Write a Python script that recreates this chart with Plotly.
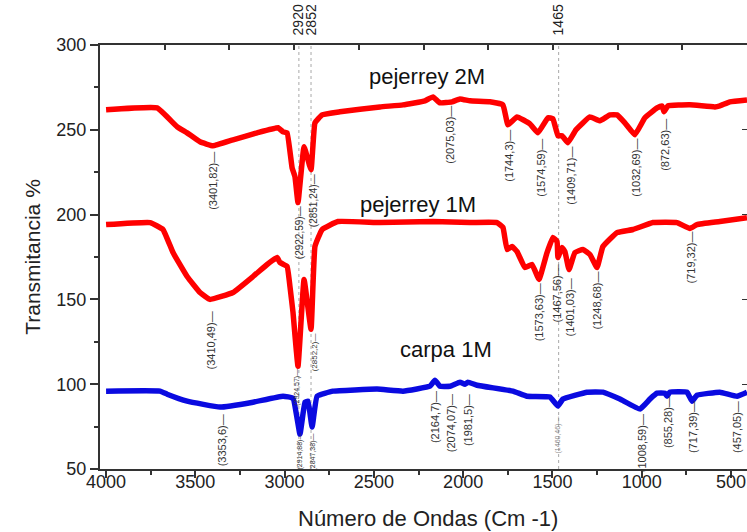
import plotly.graph_objects as go

# ---- data ----
wn_p2 = [4000, 3714, 3602, 3546, 3474, 3401, 3289, 3154, 3037, 3009, 2986, 2958, 2942, 2925,
         2891, 2852, 2830, 2790, 2690, 2466, 2337, 2214, 2169, 2130, 2062, 2018, 1962, 1850,
         1777, 1749, 1698, 1626, 1581, 1525, 1497, 1469, 1446, 1413, 1368, 1290, 1234, 1178,
         1138, 1094, 1038, 982, 914, 886, 875, 853, 730, 590, 562, 506, 410]
t_p2 = [261.8, 262.9, 251.8, 248.2, 242.9, 240.6, 244.1, 248.2, 251.2, 248.8, 248.2, 227.6, 222.4, 207.1,
        240.0, 226.5, 254.1, 258.8, 260.6, 263.5, 264.7, 267.1, 269.4, 265.9, 266.5, 268.2, 267.1, 266.5,
        264.7, 252.9, 257.6, 253.5, 248.2, 257.1, 256.5, 246.5, 246.5, 242.4, 250.0, 257.6, 255.3, 258.8,
        258.8, 254.1, 247.1, 257.1, 262.9, 264.1, 260.6, 264.1, 264.7, 263.5, 264.1, 266.5, 267.6]

wn_p1 = [4000, 3754, 3681, 3625, 3546, 3474, 3418, 3289, 3177, 3098, 3042, 3026, 2986, 2970,
         2953, 2925, 2891, 2852, 2830, 2790, 2701, 2466, 2169, 1962, 1810, 1777, 1754, 1726,
         1698, 1654, 1614, 1575, 1530, 1497, 1474, 1469, 1446, 1430, 1407, 1374, 1329, 1290,
         1250, 1217, 1138, 1049, 937, 802, 730, 690, 562, 410]
t_p1 = [194.1, 195.3, 191.2, 177.6, 163.5, 154.1, 150.0, 154.1, 163.5, 170.6, 174.7, 171.8, 169.4, 157.6,
        142.4, 110.6, 161.8, 132.4, 181.2, 191.2, 195.9, 195.3, 195.9, 195.3, 195.3, 192.4, 179.4, 181.2,
        178.2, 168.8, 170.6, 161.8, 177.6, 186.5, 184.1, 174.7, 180.6, 178.2, 167.6, 177.6, 179.4, 176.5,
        168.8, 181.2, 189.4, 191.2, 195.3, 195.3, 191.8, 194.1, 195.9, 198.2]

wn_c1 = [4000, 3698, 3658, 3546, 3362, 3177, 3009, 2953, 2914, 2886, 2869, 2846, 2818, 2729,
         2482, 2337, 2186, 2158, 2130, 2074, 2018, 1990, 1973, 1922, 1721, 1642, 1514, 1469,
         1441, 1306, 1217, 1122, 1010, 954, 914, 870, 858, 842, 746, 718, 690, 562, 466, 410]
t_c1 = [95.9, 95.9, 94.1, 90.0, 86.5, 89.4, 92.9, 91.8, 70.6, 89.4, 90.0, 74.7, 92.9, 95.9,
        97.1, 95.9, 98.8, 102.4, 98.8, 98.8, 101.2, 100.0, 101.2, 99.4, 95.9, 92.9, 92.4, 87.1,
        91.2, 95.3, 95.3, 91.2, 85.3, 91.2, 94.7, 94.7, 92.9, 95.3, 95.3, 90.0, 93.5, 95.3, 92.9, 95.3]

series_names = ["pejerrey 2M", "pejerrey 1M", "carpa 1M"]
series_colors = ["#ff0000", "#ff0000", "#0a0ae0"]
name_pos_x = [2202, 2253, 2096]
name_pos_y = [281.2, 205.9, 120.6]

# marked bands (top axis)
band_vals = [2920, 2852, 1465]
band_text = ["2920", "2852", "1465"]

x_title = "Número de Ondas (Cm -1)"
y_title = "Transmitancia %"

# peak labels: text, wavenumber, label-top transmittance, font size
peaks_p2 = [("(3401,82)—", 3401, 238.2, 11), ("(2922,59)—", 2919, 205.9, 10),
            ("(2851,24)—", 2841, 225.3, 10), ("(2075,03)—", 2074, 265.3, 11),
            ("(1744,3)—", 1743, 251.2, 11), ("(1574,59)—", 1564, 245.9, 11),
            ("(1409,71)—", 1396, 241.2, 11), ("(1032,69)—", 1032, 245.9, 11),
            ("(872,63)—", 870, 257.6, 11)]
peaks_p1 = [("(3410,49)—", 3412, 144.1, 11), ("(2924,57)—", 2930, 110.0, 7),
            ("(2852,2)—", 2835, 131.2, 8), ("(1573,63)—", 1570, 160.6, 11),
            ("(1467,56)—", 1474, 171.8, 11), ("(1401,03)—", 1402, 163.5, 11),
            ("(1248,68)—", 1250, 167.6, 11), ("(719,32)—", 724, 191.2, 11)]
peaks_c1 = [("(3353,6)—", 3350, 83.5, 11), ("(2914,88)—", 2919, 72.4, 7),
            ("(2847,38)—", 2841, 72.4, 7), ("(2164,7)—", 2158, 97.1, 11),
            ("(2074,07)—", 2068, 95.3, 11), ("(1981,5)—", 1973, 95.3, 11),
            ("(1460,46)—", 1469, 82.4, 7), ("(1008,59)—", 998, 83.5, 11),
            ("(855,28)—", 853, 94.1, 11), ("(717,39)—", 713, 91.2, 11),
            ("(457,05)—", 466, 91.2, 11)]

x_range = [4034, 410]
y_range = [50, 300]
top_frame_range = [0, 10]

FONT = "Liberation Sans, Arial, sans-serif"

fig = go.Figure()
for wn, t, nm, col in zip([wn_p2, wn_p1, wn_c1], [t_p2, t_p1, t_c1], series_names, series_colors):
    fig.add_trace(go.Scatter(x=wn, y=t, mode="lines", name=nm,
                             line=dict(color=col, width=5.5, shape="spline", smoothing=0.3),
                             showlegend=False))

# invisible helper traces so the frame axes get drawn
for xa, ya, xr in [("x2", "y", top_frame_range), ("x3", "y", x_range),
                   ("x", "y2", x_range), ("x4", "y", x_range)]:
    fig.add_trace(go.Scatter(x=xr, y=y_range, xaxis=xa, yaxis=ya, mode="markers",
                             marker=dict(opacity=0, size=1), showlegend=False, hoverinfo="skip"))

# dotted guide lines
for v in band_vals:
    fig.add_shape(type="line", xref="x", yref="paper", x0=v, x1=v, y0=0, y1=1,
                  line=dict(color="#a8a8a8", width=1, dash="dot"), layer="below")

annotations = [dict(x=0.507, y=-0.1156, xref="paper", yref="paper", text=x_title, showarrow=False,
                    xanchor="center", yanchor="middle",
                    font=dict(family=FONT, size=22, color="#222222"))]
for nm, xx, yy in zip(series_names, name_pos_x, name_pos_y):
    annotations.append(dict(x=xx, y=yy, xref="x", yref="y", text=nm, showarrow=False,
                            font=dict(family=FONT, size=22, color="#111111"),
                            xanchor="center", yanchor="middle"))
for plist in [peaks_p2, peaks_p1, peaks_c1]:
    for txt, xx, yy, fs in plist:
        annotations.append(dict(x=xx, y=yy, xref="x", yref="y", text=txt, showarrow=False,
                                textangle=-90, xanchor="center", yanchor="top",
                                font=dict(family=FONT, size=fs,
                                          color="#888888" if txt.startswith("(1460") else "#333333")))

fig.update_layout(
    width=747, height=532,
    margin=dict(l=100, r=0, t=45, b=63, autoexpand=False),
    paper_bgcolor="white", plot_bgcolor="white",
    font=dict(family=FONT, color="#222222"),
    annotations=annotations,
    xaxis=dict(range=x_range, dtick=500, tick0=0, showgrid=False, zeroline=False, automargin=False,
               showline=True, linecolor="#333333", linewidth=2,
               ticks="outside", ticklen=7, tickwidth=1.5, tickcolor="#333333",
               minor=dict(ticks="outside", ticklen=4, dtick=250, tick0=0, tickcolor="#333333"),
               showticklabels=False),
    xaxis4=dict(overlaying="x", anchor="y", side="bottom", range=x_range, dtick=500, tick0=0,
                automargin=False, ticks="", showline=False, showgrid=False, zeroline=False,
                tickfont=dict(family=FONT, size=18, color="#222222")),
    yaxis=dict(range=y_range, dtick=50, showgrid=False, zeroline=False, automargin=False,
               showline=True, linecolor="#333333", linewidth=2,
               ticks="outside", ticklen=8, tickwidth=1.5, tickcolor="#333333",
               minor=dict(ticks="outside", ticklen=4, dtick=25, tickcolor="#333333"),
               tickfont=dict(family=FONT, size=18, color="#222222"),
               title=dict(text=y_title, font=dict(family=FONT, size=21, color="#222222"),
                          standoff=10)),
    xaxis2=dict(overlaying="x", anchor="y", side="top", range=top_frame_range, tickvals=list(range(1, 10)),
                automargin=False, showticklabels=False, ticks="inside", ticklen=5, tickwidth=1.5,
                tickcolor="#333333", showline=True, linecolor="#333333", linewidth=1.5,
                showgrid=False, zeroline=False),
    xaxis3=dict(overlaying="x", anchor="y", side="top", range=x_range, tickvals=band_vals, ticktext=band_text,
                automargin=False, tickangle=-90, ticks="", showline=True, linecolor="#333333", linewidth=1.5,
                showgrid=False, zeroline=False, ticklabelstandoff=5,
                tickfont=dict(family=FONT, size=14, color="#222222")),
    yaxis2=dict(overlaying="y", anchor="x", side="right", range=y_range, tickvals=[100, 150, 200, 250],
                automargin=False, showticklabels=False, ticks="inside", ticklen=5, tickcolor="#333333",
                showline=False, showgrid=False, zeroline=False),
)

fig.write_html("out.html", config={"displayModeBar": False},
               post_script="document.body.style.margin='0';document.body.style.padding='0';")
